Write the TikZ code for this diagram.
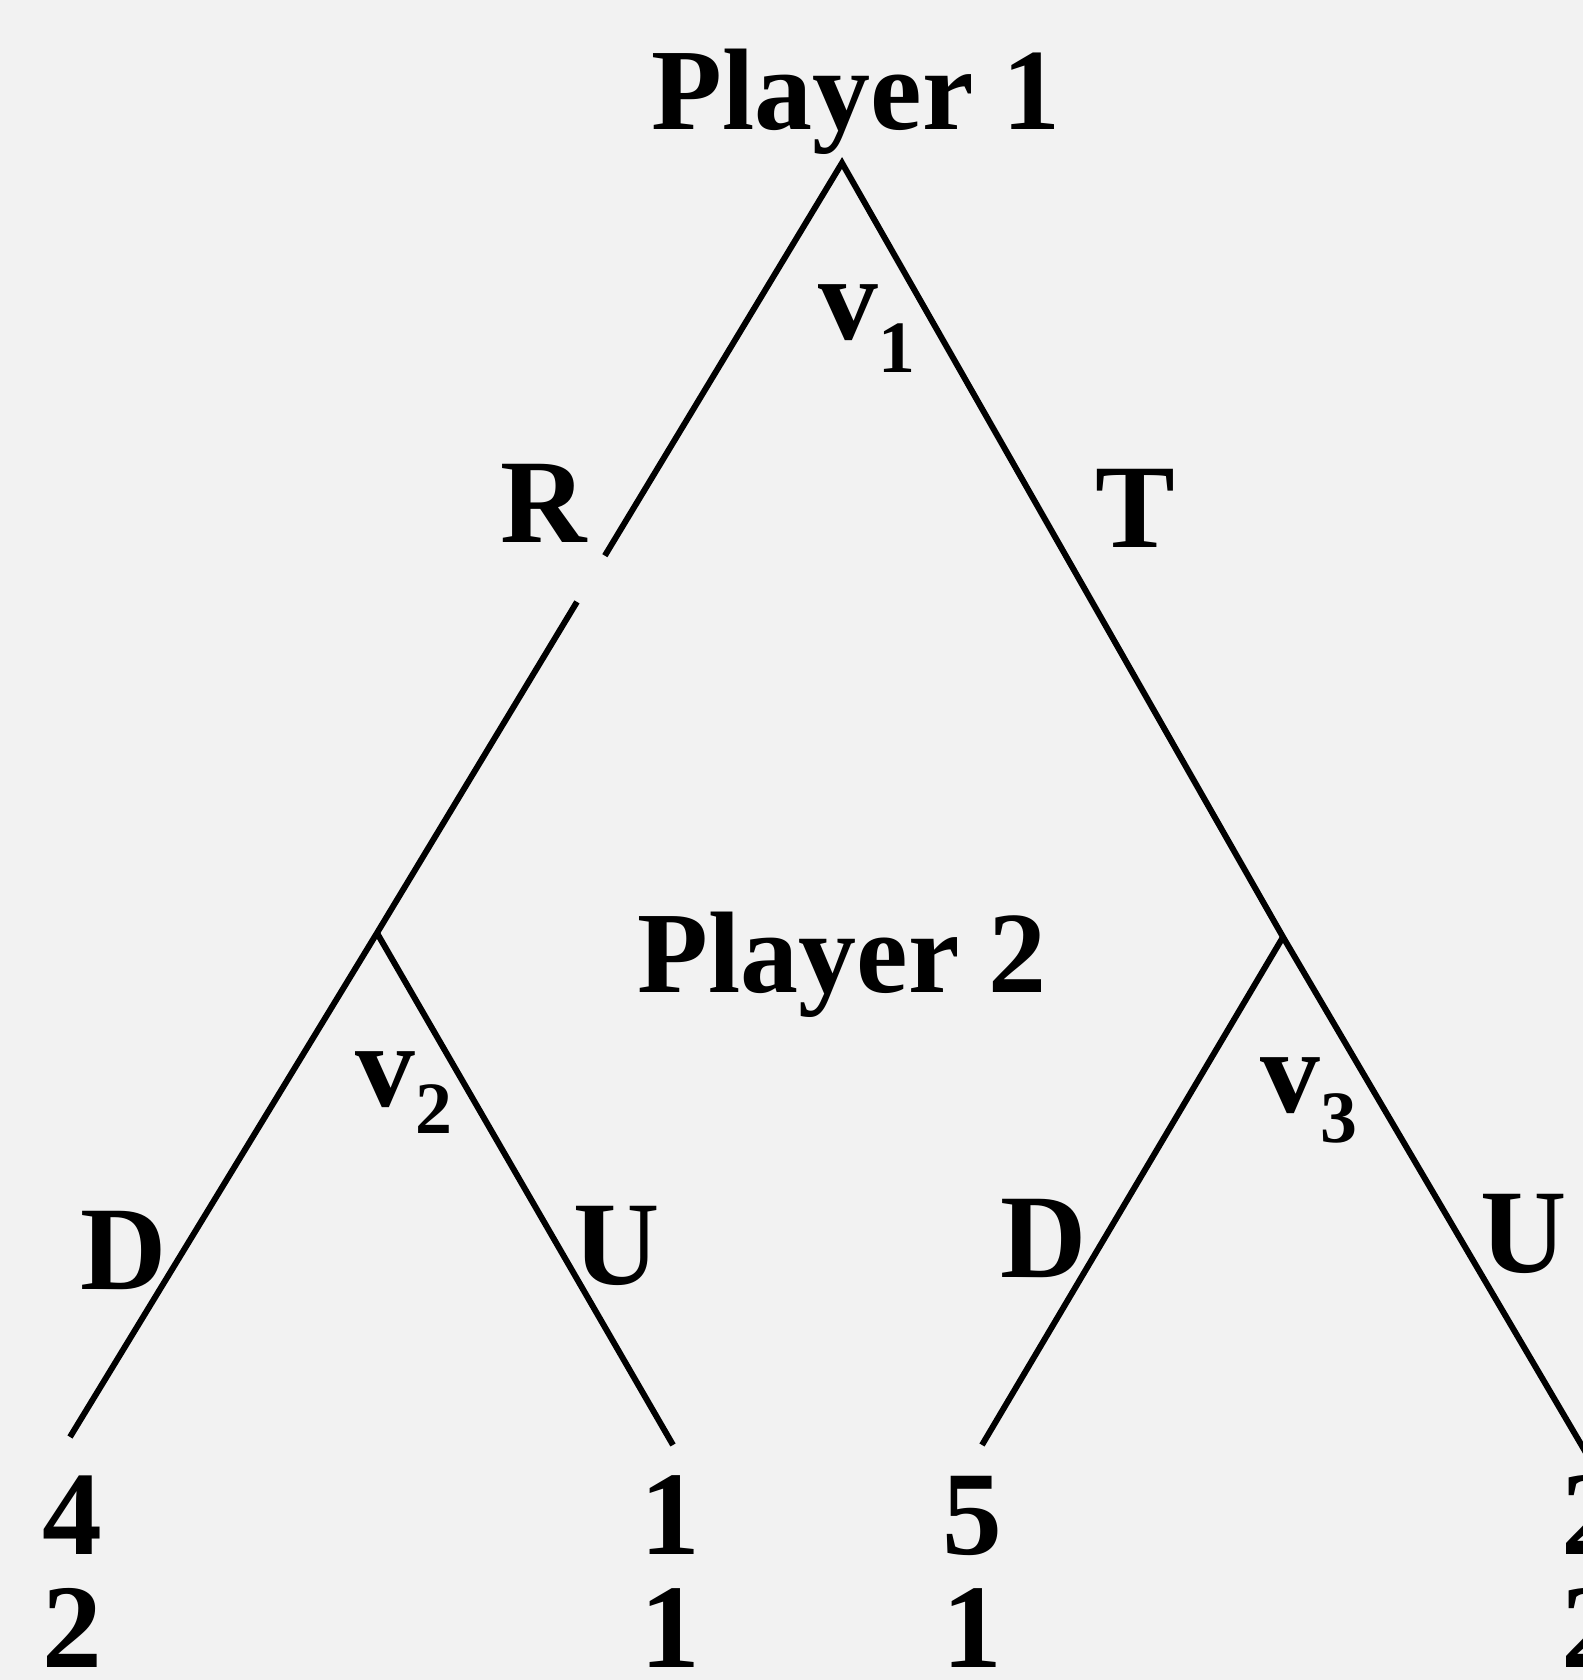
\documentclass[tikz,border=0pt]{standalone}
\usepackage{fontspec}
\setmainfont{Liberation Serif}
\usepackage{tikz}
\usetikzlibrary{calc}
\definecolor{PaperGray}{HTML}{F2F2F2}

\begin{document}
\begin{tikzpicture}[
    every node/.style={inner sep=0pt, font=\bfseries\fontsize{34}{40}\selectfont},
    playerlabel/.style={anchor=base, font=\bfseries\fontsize{33}{38}\selectfont},
    movelabel/.style={anchor=base},
    vertexlabel/.style={anchor=base west},
    payoff/.style={anchor=base, align=center, font=\bfseries\fontsize{34}{31.9}\selectfont},
    branch/.style={line width=1.7pt, line join=miter}
]
\fill[PaperGray] (0,0) rectangle (15.83,16.80);
\useasboundingbox (0,0) rectangle (15.83,16.80);

% decision points and leaves
\coordinate (n1) at (8.42,15.17);
\coordinate (n2) at (3.77,7.47);
\coordinate (n3) at (12.83,7.43);
\coordinate (l1) at (0.70,2.43);
\coordinate (l2) at (6.73,2.35);
\coordinate (l3) at (9.82,2.35);
\coordinate (l4) at (15.92,2.17);
\coordinate (gapA) at ($(n1)!0.51!(n2)$);
\coordinate (gapB) at ($(n1)!0.57!(n2)$);

\draw[branch] (gapA) -- (n1) -- (n3) -- (l4);
\draw[branch] (gapB) -- (n2) -- (l1);
\draw[branch] (n2) -- (l2);
\draw[branch] (n3) -- (l3);

\node[playerlabel] (p1) at (8.56,15.50) {Player 1};
\node[playerlabel] (p2) at (8.42,6.87) {Player 2};

\node[vertexlabel] (v1) at (8.18,13.40) {v\raisebox{-0.33cm}{\fontsize{21}{21}\selectfont 1}};
\node[vertexlabel] (v2) at (3.55,5.73) {v\raisebox{-0.27cm}{\fontsize{21}{21}\selectfont 2}};
\node[vertexlabel] (v3) at (12.60,5.67) {v\raisebox{-0.30cm}{\fontsize{21}{21}\selectfont 3}};

\node[movelabel] (mR) at (5.44,11.37) {R};
\node[movelabel] (mT) at (11.35,11.32) {T};
\node[movelabel] (mD1) at (1.24,3.90) {D};
\node[movelabel] (mU1) at (6.17,3.95) {U};
\node[movelabel] (mD2) at (10.44,4.02) {D};
\node[movelabel] (mU2) at (15.24,4.07) {U};

\node[payoff] (pay1) at (0.72,0.13) {4\\2};
\node[payoff] (pay2) at (6.70,0.13) {1\\1};
\node[payoff] (pay3) at (9.72,0.13) {5\\1};
\node[payoff] (pay4) at (15.91,0.13) {2\\2};
\end{tikzpicture}
\end{document}
